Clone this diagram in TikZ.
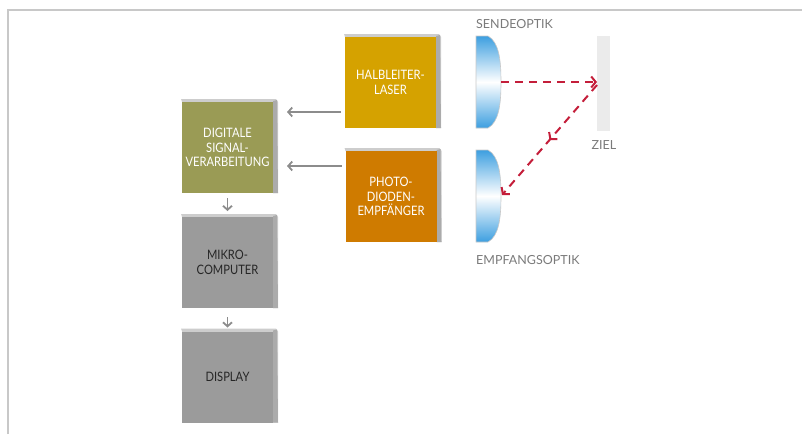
\documentclass[tikz,border=0pt]{standalone}
\usepackage{fontspec}
\setmainfont{Lato}
\newfontfamily\boxfont[FakeStretch=0.86]{Lato}
\usetikzlibrary{arrows.meta,decorations.markings,backgrounds}
\definecolor{framegray}{HTML}{C8C8C8}
\definecolor{lasercol}{HTML}{D5A200}
\definecolor{photocol}{HTML}{CF7B00}
\definecolor{dsvcol}{HTML}{9A9B55}
\definecolor{blockgray}{HTML}{9B9B9B}
\definecolor{shadetop}{HTML}{CDCDCD}
\definecolor{shaderight}{HTML}{ABABAB}
\definecolor{arrowgray}{HTML}{8C8C8C}
\definecolor{labelgray}{HTML}{7A7A7A}
\definecolor{beamred}{HTML}{C41E3A}
\definecolor{lensblue}{HTML}{3D9FE0}
\definecolor{zielgray}{HTML}{EBEBEB}
\tikzset{
  block/.style={minimum width=91pt,minimum height=91pt,inner sep=0pt,outer sep=0pt,
    align=center,font=\boxfont\fontsize{13}{14.5}\selectfont,text=white},
  garrow/.style={draw=arrowgray,line width=1.8pt,-{Straight Barb[length=4pt,width=9pt]}},
  rarrow/.style={draw=beamred,line width=2pt,dash pattern=on 8pt off 6pt,
    -{Straight Barb[length=4.5pt,width=11pt]}},
  optlabel/.style={font=\fontsize{12.5}{14}\selectfont,text=labelgray,inner sep=0pt},
}
\newcommand\blockshadow[1]{%
  \fill[shadetop] ([shift={(-1,-3)}]#1.north west) -- ([shift={(3,-3)}]#1.north east)
     -- ([shift={(5,0)}]#1.north east) -- ([shift={(5,0)}]#1.south east)
     -- (#1.south east) -- (#1.north west) -- cycle;
  \fill[shaderight] ([shift={(0,-1)}]#1.north east) -- ([shift={(4,-2)}]#1.north east)
     -- ([shift={(5,0)}]#1.south east) -- (#1.south east) -- cycle;}
\begin{document}
\begin{tikzpicture}[x=1pt,y=-1pt]
\useasboundingbox (0,0) rectangle (802,434);
\draw[framegray,line width=2pt] (7.8,434) -- (7.8,9.5) -- (802,9.5);

% blocks
\node[block,fill=lasercol] (laser) at (390.5,82.5) {HALBLEITER-\\LASER};
\node[block,fill=photocol] (photo) at (391,196.5) {PHOTO-\\DIODEN-\\EMPFÄNGER};
\node[block,fill=dsvcol] (dsv) at (227.5,147.5) {DIGITALE\\SIGNAL-\\VERARBEITUNG};
\node[block,fill=blockgray,text=black!85] (mikro) at (227.5,262.5) {MIKRO-\\COMPUTER};
\node[block,fill=blockgray,text=black!85] (display) at (227.5,377) {DISPLAY};
\begin{scope}[on background layer]
  \blockshadow{laser}
  \blockshadow{photo}
  \blockshadow{dsv}
  \blockshadow{mikro}
  \blockshadow{display}
\end{scope}

% gray arrows
\coordinate (yone) at (0,112);
\coordinate (ytwo) at (0,166);
\draw[garrow] ([xshift=-4pt]laser.west |- yone) -- ([xshift=14pt]dsv.east |- yone);
\draw[garrow] ([xshift=-4pt]photo.west |- ytwo) -- ([xshift=14pt]dsv.east |- ytwo);
\draw[garrow] ([yshift=-5pt]dsv.south) -- ([yshift=6pt]mikro.north);
\draw[garrow] ([yshift=-9pt]mikro.south) -- ([yshift=4pt]display.north);

% lenses
\shade[top color=lensblue,bottom color=lensblue,middle color=white,draw=framegray,line width=0.6pt]
  (476,36) -- (488,36) .. controls (499,42) and (501,60) .. (501,82)
  .. controls (501,104) and (499,122) .. (488,128) -- (476,128) -- cycle;
\shade[top color=lensblue,bottom color=lensblue,middle color=white,draw=framegray,line width=0.6pt]
  (476,150) -- (488,150) .. controls (499,156) and (501,174) .. (501,196)
  .. controls (501,218) and (499,236) .. (488,242) -- (476,242) -- cycle;
\coordinate (sendout) at (501,82);
\coordinate (empfin) at (502,195);

% target
\node[fill=zielgray,minimum width=13pt,minimum height=95pt,inner sep=0pt,outer sep=0pt] (ziel) at (603.5,83.5) {};

% labels
\node[optlabel,anchor=west] (sendlbl) at (476,24) {SENDEOPTIK};
\node[optlabel,anchor=west] (empflbl) at (476,260) {EMPFANGSOPTIK};
\node[optlabel] (ziellbl) at (604,145) {ZIEL};

% beams
\draw[rarrow] (sendout) -- (ziel.west |- sendout);
\draw[rarrow,postaction={decorate},decoration={markings,
   mark=at position 0.5 with {\arrow[beamred,line width=2pt]{Straight Barb[length=4.5pt,width=11pt]}}}]
  ([yshift=-3pt]ziel.west |- sendout) -- (empfin);
\end{tikzpicture}
\end{document}
